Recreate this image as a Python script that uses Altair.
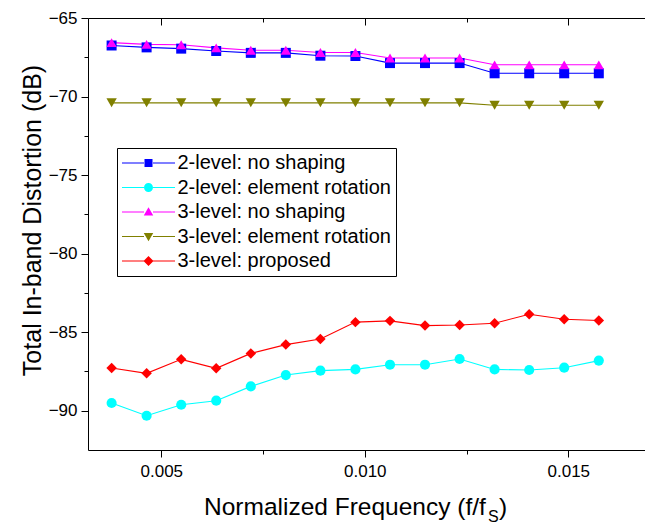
import altair as alt
import pandas as pd

# ---------------- data ----------------
freq = [0.00378, 0.00464, 0.00549, 0.00635, 0.00720, 0.00806, 0.00891, 0.00977,
        0.01062, 0.01148, 0.01233, 0.01319, 0.01404, 0.01490, 0.01575]

two_level_no_shaping = [-66.75, -66.87, -66.95, -67.10, -67.22, -67.22, -67.40, -67.42,
                        -67.87, -67.87, -67.87, -68.52, -68.52, -68.52, -68.52]
two_level_element_rotation = [-89.51, -90.32, -89.62, -89.36, -88.45, -87.73, -87.45, -87.37,
                              -87.07, -87.07, -86.71, -87.37, -87.41, -87.26, -86.81]
three_level_no_shaping = [-66.57, -66.68, -66.70, -66.90, -67.05, -67.05, -67.20, -67.20,
                          -67.55, -67.55, -67.55, -67.98, -67.98, -67.98, -67.98]
three_level_element_rotation = [-70.40, -70.40, -70.40, -70.40, -70.40, -70.40, -70.40, -70.40,
                                -70.40, -70.40, -70.40, -70.55, -70.55, -70.55, -70.55]
three_level_proposed = [-87.28, -87.62, -86.73, -87.30, -86.35, -85.79, -85.43, -84.36,
                        -84.28, -84.58, -84.54, -84.43, -83.86, -84.18, -84.26]

series_names = ["2-level: no shaping", "2-level: element rotation", "3-level: no shaping",
                "3-level: element rotation", "3-level: proposed"]
series_values = [two_level_no_shaping, two_level_element_rotation, three_level_no_shaping,
                 three_level_element_rotation, three_level_proposed]
series_colors = ["#0000FF", "#00FFFF", "#FF00FF", "#808000", "#FF0000"]
series_shapes = ["square", "circle", "triangle-up", "triangle-down", "diamond"]
marker_sizes = [100, 110, 135, 125, 145]

x_ticks_major = [0.005, 0.010, 0.015]
x_ticks_minor = [0.0075, 0.0125]
y_ticks_major = [-90, -85, -80, -75, -70, -65]
y_ticks_minor = [-87.5, -82.5, -77.5, -72.5, -67.5]

y_title = "Total In-band Distortion (dB)"
x_title_main = "Normalized Frequency (f/f"
x_title_sub = "S"
x_title_close = ")"

rows = []
for name, vals in zip(series_names, series_values):
    for f, v in zip(freq, vals):
        rows.append({"freq": f, "tid": v, "series": name})
df = pd.DataFrame(rows)

# ---------------- styling ----------------
FONT = "Liberation Sans"
W, H = 557, 432
xs = alt.Scale(domain=[0.0032, 0.016885], nice=False, zero=False)
ys = alt.Scale(domain=[-92.5, -65], nice=False, zero=False)

# legend symbols: line + marker (unit = sqrt(size)/2 px)
line_l = "M-5.3,-0.11H-0.9V0.11H-5.3Z"
line_r = "M0.9,-0.11H5.3V0.11H0.9Z"
mk = {
    "square": "M-0.8,-0.8H0.8V0.8H-0.8Z",
    "circle": "M-0.9,0A0.9 0.9 0 1 1 0.9,0A0.9 0.9 0 1 1 -0.9,0Z",
    "triangle-up": "M0,-0.95L0.95,0.7L-0.95,0.7Z",
    "triangle-down": "M0,0.95L0.95,-0.7L-0.95,-0.7Z",
    "diamond": "M-1,0L0,-1L1,0L0,1Z",
}
legend_paths = [line_l + line_r + mk[s] for s in series_shapes]

base = alt.Chart(df)


def axis_layer(xaxis, yaxis):
    return base.mark_point(opacity=0).encode(
        x=alt.X("freq:Q", scale=xs, axis=xaxis),
        y=alt.Y("tid:Q", scale=ys, axis=yaxis),
    ).transform_filter("false")


common_x = dict(domainColor="black", tickColor="black", tickWidth=1, domainWidth=1, grid=False)

major = axis_layer(
    alt.Axis(orient="bottom", values=x_ticks_major, format=".3f", tickSize=7, labelPadding=6,
             labelFont=FONT, labelFontSize=17, labelColor="black", title=None, **common_x),
    alt.Axis(orient="left", values=y_ticks_major, format="d", tickSize=7, labelPadding=4,
             labelFont=FONT, labelFontSize=17, labelColor="black",
             title=y_title, titleFont=FONT, titleFontSize=25, titleFontWeight="normal",
             titleColor="black", titleX=-48, titleY=202, titleAngle=270,
             titleBaseline="alphabetic", titleAlign="center", **common_x),
)
minor = axis_layer(
    alt.Axis(orient="bottom", values=x_ticks_minor, tickSize=4, labels=False, domain=False,
             title=None, tickColor="black", grid=False),
    alt.Axis(orient="left", values=y_ticks_minor, tickSize=4, labels=False, domain=False,
             title=None, tickColor="black", grid=False),
)
top_major = axis_layer(
    alt.Axis(orient="bottom", offset=-H, values=x_ticks_major, tickSize=7, labels=False,
             title=None, **common_x),
    None,
)
top_minor = axis_layer(
    alt.Axis(orient="bottom", offset=-H, values=x_ticks_minor, tickSize=4, labels=False,
             domain=False, title=None, tickColor="black", grid=False),
    None,
)

lines = base.mark_line(strokeWidth=1.1).encode(
    x=alt.X("freq:Q", scale=xs, axis=None),
    y=alt.Y("tid:Q", scale=ys, axis=None),
    color=alt.Color("series:N", scale=alt.Scale(domain=series_names, range=series_colors), legend=None),
    detail="series:N",
)

points = base.mark_point(filled=True, opacity=1).encode(
    x=alt.X("freq:Q", scale=xs, axis=None),
    y=alt.Y("tid:Q", scale=ys, axis=None),
    color=alt.Color("series:N", scale=alt.Scale(domain=series_names, range=series_colors), legend=None),
    shape=alt.Shape("series:N", scale=alt.Scale(domain=series_names, range=series_shapes), legend=None),
    size=alt.Size("series:N", scale=alt.Scale(domain=series_names, range=marker_sizes), legend=None),
)

leg = alt.Legend(title=None, orient="none", legendX=29, legendY=130, strokeColor="black",
                 padding=5, fillColor="white", labelFont=FONT, labelFontSize=20,
                 labelColor="black", symbolSize=100, symbolStrokeWidth=0, symbolOffset=16.5,
                 labelOffset=19, rowPadding=4.5, labelLimit=400)

legend_layer = base.mark_point(filled=True, opacity=1).encode(
    x=alt.X("freq:Q", scale=xs, axis=None),
    y=alt.Y("tid:Q", scale=ys, axis=None),
    color=alt.Color("series:N", scale=alt.Scale(domain=series_names, range=series_colors), legend=leg),
    shape=alt.Shape("series:N", scale=alt.Scale(domain=series_names, range=legend_paths), legend=leg),
).transform_filter("false")

t1 = alt.Chart(pd.DataFrame({"t": [x_title_main]})).mark_text(
    align="left", baseline="alphabetic", font=FONT, fontSize=24.5, color="black"
).encode(x=alt.value(116), y=alt.value(497), text="t:N")
t2 = alt.Chart(pd.DataFrame({"t": [x_title_sub]})).mark_text(
    align="left", baseline="alphabetic", font=FONT, fontSize=16, color="black"
).encode(x=alt.value(400), y=alt.value(503.5), text="t:N")
t3 = alt.Chart(pd.DataFrame({"t": [x_title_close]})).mark_text(
    align="left", baseline="alphabetic", font=FONT, fontSize=24.5, color="black"
).encode(x=alt.value(411), y=alt.value(497), text="t:N")

chart = alt.layer(
    major, minor, top_major, top_minor, lines, points, legend_layer, t1, t2, t3
).resolve_scale(
    color="independent", shape="independent", size="independent"
).resolve_axis(
    x="independent", y="independent"
).properties(
    width=W, height=H,
    padding={"left": 88, "top": 18, "right": 0, "bottom": 74},
    autosize=alt.AutoSizeParams(type="none"),
    background="white",
).configure_view(stroke=None)

chart.save("out.html", embed_options={"renderer": "svg", "actions": False})
